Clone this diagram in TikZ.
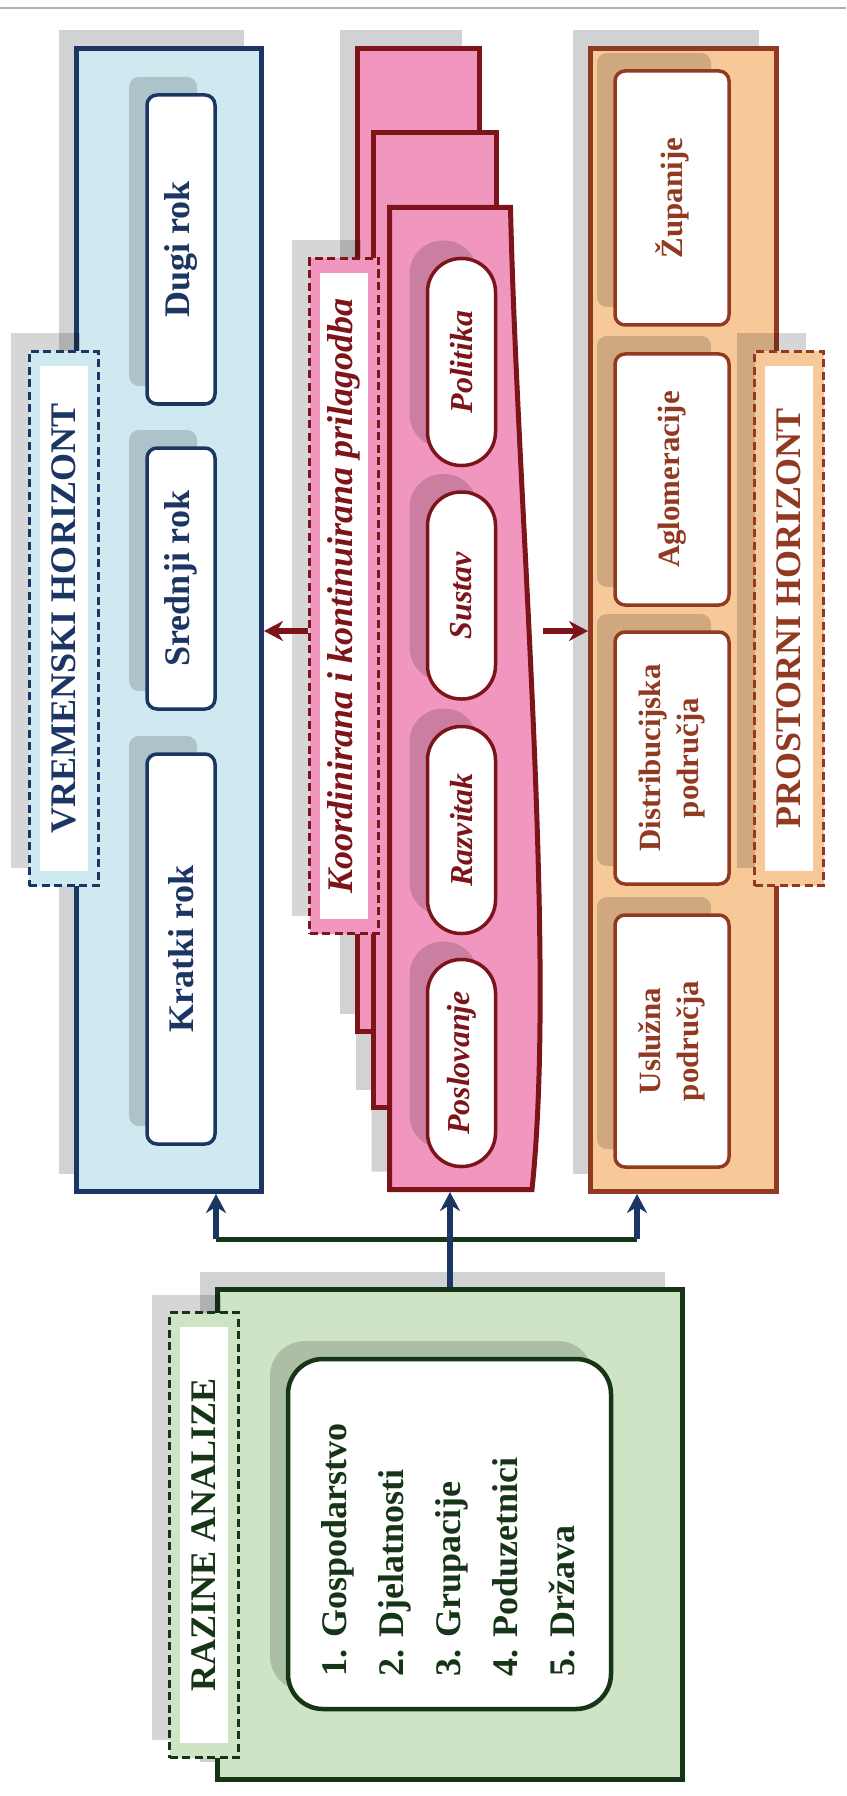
\documentclass[tikz,border=0pt]{standalone}
\usepackage{fontspec}
\setmainfont{Liberation Serif}
\usepackage{graphicx}
\usetikzlibrary{positioning,arrows.meta,shadows}

\definecolor{navy}{RGB}{28,54,99}
\definecolor{cyanfill}{RGB}{206,233,240}
\definecolor{pinkfill}{RGB}{241,151,191}
\definecolor{darkred}{RGB}{125,20,25}
\definecolor{orangefill}{RGB}{248,201,152}
\definecolor{rust}{RGB}{146,57,33}
\definecolor{greenfill}{RGB}{206,228,197}
\definecolor{darkgreen}{RGB}{22,52,22}
\definecolor{shadowgray}{RGB}{209,210,212}
\definecolor{topgray}{RGB}{178,178,178}

\newcommand{\tagfnt}{\fontsize{20.5}{24}\selectfont\bfseries}
\newcommand{\itemfnt}{\fontsize{17.6}{21.6}\selectfont\bfseries}
\newcommand{\pillfnt}{\fontsize{18.2}{21}\selectfont\bfseries\itshape}
\newcommand{\listfnt}{\fontsize{20.5}{32.4}\selectfont\bfseries}

\begin{document}
\begin{tikzpicture}[
    >={Stealth[length=0.38cm,width=0.4cm]},
    colshadow/.style={drop shadow={shadow xshift=-0.36cm, shadow yshift=0.36cm, fill=shadowgray, opacity=1}},
    softshadow/.style={drop shadow={shadow xshift=-0.36cm, shadow yshift=0.36cm, fill=black, opacity=0.16}},
    column/.style={draw, line width=0.1cm, minimum width=3.7cm, minimum height=22.86cm, colshadow},
    item/.style={draw, fill=white, line width=0.07cm, rounded corners=0.2cm, inner sep=0pt, softshadow},
    pill/.style={item, rounded corners=0.67cm, minimum width=1.36cm, minimum height=4.14cm, draw=darkred, text=darkred, font=\pillfnt},
    tagbox/.style={draw, line width=0.06cm, dash pattern=on 0.16cm off 0.09cm, minimum width=1.38cm, softshadow},
    tagtext/.style={fill=white, inner sep=0pt, minimum width=0.96cm, font=\tagfnt},
    sheet/.style={draw=darkred, fill=pinkfill, line width=0.1cm},
    redarrow/.style={->, draw=darkred, line width=0.13cm},
    bluearrow/.style={->, draw=navy, line width=0.13cm}
]
  \useasboundingbox (0,0) rectangle (16.92,-35.92);

  % riga in alto
  \draw[topgray, line width=0.05cm] (0,-0.16) -- (16.92,-0.16);

  % fogli rosa (prima le ombre)
  \fill[shadowgray] (6.79,-0.61) rectangle (9.23,-20.27);
  \fill[shadowgray] (7.11,-2.29) rectangle (9.57,-21.79);
  \fill[shadowgray] (7.43,-3.79) -- (9.85,-3.79) .. controls (9.98,-9.64) and (10.78,-18.64) .. (10.28,-23.43) -- (7.43,-23.43) -- cycle;
  \draw[sheet] (7.15,-0.97) rectangle (9.59,-20.63);
  \draw[sheet] (7.47,-2.65) rectangle (9.93,-22.15);
  \draw[sheet] (7.79,-4.15) -- (10.21,-4.15) .. controls (10.34,-10.0) and (11.14,-19.0) .. (10.64,-23.79) -- (7.79,-23.79) -- cycle;

  % colonne
  \node[column, draw=navy, fill=cyanfill] (vrem) at (3.38,-12.40) {};
  \node[column, draw=rust, fill=orangefill, minimum width=3.72cm] (prost) at (13.67,-12.40) {};
  \node[column, draw=darkgreen, fill=greenfill, minimum width=9.3cm, minimum height=9.8cm] (raz) at (9.00,-30.69) {};

  % orizzonte temporale
  \node[item, draw=navy, text=navy, font=\tagfnt, minimum width=1.36cm, minimum height=6.18cm] (dugi) at (3.62,-4.99) {\rotatebox{90}{Dugi rok}};
  \node[item, draw=navy, text=navy, font=\tagfnt, minimum width=1.36cm, minimum height=5.22cm] (srednji) at (3.62,-11.57) {\rotatebox{90}{Srednji rok}};
  \node[item, draw=navy, text=navy, font=\tagfnt, minimum width=1.36cm, minimum height=7.8cm] (kratki) at (3.62,-18.98) {\rotatebox{90}{Kratki rok}};

  % pillole
  \node[pill] (politika) at (9.23,-7.24) {\rotatebox{90}{Politika}};
  \node[pill] (sustav) at (9.23,-11.91) {\rotatebox{90}{Sustav}};
  \node[pill] (razvitak) at (9.23,-16.60) {\rotatebox{90}{Razvitak}};
  \node[pill] (poslovanje) at (9.23,-21.26) {\rotatebox{90}{Poslovanje}};

  % orizzonte spaziale
  \node[item, draw=rust, text=rust, font=\itemfnt, minimum width=2.28cm, minimum height=5.08cm] (zupanije) at (13.44,-3.96) {\rotatebox{90}{Županije}};
  \node[item, draw=rust, text=rust, font=\itemfnt, minimum width=2.28cm, minimum height=5.02cm] (aglom) at (13.44,-9.59) {\rotatebox{90}{Aglomeracije}};
  \node[item, draw=rust, text=rust, font=\itemfnt, minimum width=2.28cm, minimum height=5.04cm] (distrib) at (13.44,-15.16) {\rotatebox{90}{\begin{tabular}{@{}c@{}}Distribucijska\\područja\end{tabular}}};
  \node[item, draw=rust, text=rust, font=\itemfnt, minimum width=2.28cm, minimum height=5.04cm] (usluzna) at (13.44,-20.82) {\rotatebox{90}{\begin{tabular}{@{}c@{}}Uslužna\\područja\end{tabular}}};

  % livelli
  \node[item, draw=darkgreen, line width=0.09cm, rounded corners=0.7cm, minimum width=6.46cm, minimum height=7cm] (razlist) at (8.99,-30.68) {};
  \node[rotate=90, anchor=west, align=left, inner sep=0pt, text=darkgreen, font=\listfnt] (raztxt) at (8.96,-33.54) {1. Gospodarstvo\\2. Djelatnosti\\3. Grupacije\\4. Poduzetnici\\5. Država};

  % etichette tratteggiate
  \node[tagbox, draw=navy, fill=cyanfill, minimum height=10.68cm] (vremtag) at (1.27,-12.37) {};
  \node[tagtext, text=navy, minimum height=10.08cm] (vremtxt) at (vremtag) {\rotatebox{90}{VREMENSKI HORIZONT}};
  \node[tagbox, draw=darkred, fill=pinkfill, minimum height=13.5cm] (koordtag) at (6.88,-11.92) {};
  \node[tagtext, text=darkred, font=\tagfnt\itshape, minimum height=12.9cm] (koord) at (koordtag) {\rotatebox{90}{Koordinirana i kontinuirana prilagodba}};
  \node[tagbox, draw=rust, fill=orangefill, minimum height=10.68cm] (prosttag) at (15.78,-12.37) {};
  \node[tagtext, text=rust, minimum height=10.08cm] (prosttxt) at (prosttag) {\rotatebox{90}{PROSTORNI HORIZONT}};
  \node[tagbox, draw=darkgreen, fill=greenfill, minimum height=8.9cm] (raztag) at (4.08,-30.70) {};
  \node[tagtext, text=darkgreen, minimum height=8.32cm] (raztagtxt) at (raztag) {\rotatebox{90}{RAZINE ANALIZE}};

  % frecce rosse
  \coordinate (mid) at (0,-12.62);
  \coordinate (pinkout) at (10.86,-12.62);
  \draw[redarrow] (koordtag.west |- mid) -- (vrem.east |- mid);
  \draw[redarrow] (pinkout) -- (prost.west |- pinkout);

  % frecce dal basso
  \coordinate (forkl) at (4.32,-24.78);
  \coordinate (forkr) at (12.74,-24.78);
  \coordinate (pinkbot) at (9.00,-23.84);
  \draw[darkgreen, line width=0.1cm] (forkl) -- (forkr);
  \draw[bluearrow] (forkl) -- (forkl |- vrem.south);
  \draw[bluearrow] (forkr) -- (forkr |- prost.south);
  \draw[bluearrow] (raz.north) -- (pinkbot);

\end{tikzpicture}
\end{document}
